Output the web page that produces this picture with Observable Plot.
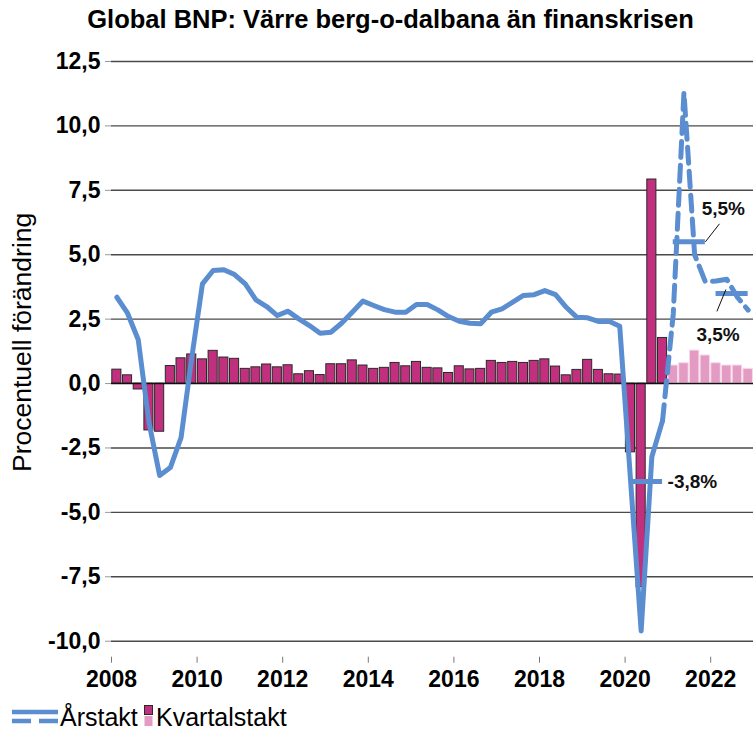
<!DOCTYPE html>
<html>
<head>
<meta charset="utf-8">
<script src="https://cdn.jsdelivr.net/npm/d3@7"></script>
<script src="https://cdn.jsdelivr.net/npm/@observablehq/plot@0.6"></script>
<style>
  body { margin: 0; background: #fff; font-family: "Liberation Sans", Arial, sans-serif; }
  #wrap { width: 753px; height: 736px; position: relative; overflow: hidden; }
  #title { height: 40px; line-height: 38px; font-size: 25.5px; font-weight: bold; text-align: center; padding-left: 28px; white-space: nowrap; }
  #legend { position: absolute; left: 0; top: 697px; height: 39px; width: 753px; }
  #legend .item { position: absolute; top: 0; font-size: 25px; line-height: 41px; }
</style>
</head>
<body>
<div id="wrap">
  <div id="title">Global BNP: Värre berg-o-dalbana än finanskrisen</div>
  <div id="chart"></div>
  <div id="legend"></div>
</div>
<script>
// ---- data ----
const years = [2008, 2009, 2010, 2011, 2012, 2013, 2014, 2015, 2016, 2017, 2018, 2019, 2020, 2021, 2022];
// Kvartalstakt (quarter-on-quarter, %), 2008Q1 .. 2020Q4 (utfall)
const kvartalUtfall = [
  0.54, 0.32, -0.23, -1.82,
  -1.87, 0.68, 0.98, 1.13,
  0.94, 1.27, 1.01, 0.96,
  0.57, 0.63, 0.74, 0.63,
  0.71, 0.36, 0.48, 0.33,
  0.75, 0.75, 0.90, 0.70,
  0.57, 0.61, 0.80, 0.67,
  0.84, 0.61, 0.59, 0.41,
  0.67, 0.55, 0.57, 0.88,
  0.80, 0.84, 0.80, 0.88,
  0.94, 0.66, 0.32, 0.53,
  0.92, 0.53, 0.36, 0.35,
  -2.67, -7.90, 7.92, 1.77
];
// Kvartalstakt prognos 2021Q1 .. 2022Q4
const kvartalPrognos = [0.70, 0.79, 1.28, 1.09, 0.79, 0.70, 0.70, 0.57];
// Årstakt (year-on-year, %), 2008Q1 .. 2020Q4
const arsUtfall = [
  3.35, 2.73, 1.70, -1.50,
  -3.57, -3.26, -2.10, 1.00,
  3.87, 4.39, 4.42, 4.23,
  3.87, 3.25, 2.99, 2.64,
  2.81, 2.51, 2.25, 1.95,
  1.99, 2.34, 2.77, 3.20,
  3.03, 2.87, 2.77, 2.77,
  3.07, 3.07, 2.86, 2.60,
  2.42, 2.34, 2.32, 2.77,
  2.90, 3.16, 3.42, 3.45,
  3.61, 3.45, 2.96, 2.57,
  2.55, 2.41, 2.42, 2.22,
  -3.70, -9.60, -2.84, -1.44
];
// Årstakt prognos 2021Q1 .. 2022Q4
const arsPrognos = [2.70, 11.30, 5.00, 3.95, 3.98, 4.05, 3.35, 2.85];
// Årsgenomsnitt (annual averages) shown as markers
const arsAr = [2020, 2021, 2022];
const arsSnitt = [-3.8, 5.5, 3.5];
const arsEtikett = ["-3,8%", "5,5%", "3,5%"];
const yTicks = [-10, -7.5, -5, -2.5, 0, 2.5, 5, 7.5, 10, 12.5];
const xTicks = [2008, 2010, 2012, 2014, 2016, 2018, 2020, 2022];
const yLabel = "Procentuell förändring";

// ---- build tables ----
const quarterStart = (i) => years[0] + i / 4;
const barsA = kvartalUtfall.map((v, i) => ({x1: quarterStart(i), x2: quarterStart(i + 1), v}));
const nA = kvartalUtfall.length;
const barsP = kvartalPrognos.map((v, i) => ({x1: quarterStart(nA + i), x2: quarterStart(nA + i + 1), v}));
const lineA = arsUtfall.map((v, i) => ({x: quarterStart(i) + 0.125, v}));
const lineP = [lineA[lineA.length - 1]].concat(arsPrognos.map((v, i) => ({x: quarterStart(arsUtfall.length + i) + 0.125, v})));
const ann = arsAr.map((y, i) => ({x1: y + 0.125, x2: y + 0.875, v: arsSnitt[i], label: arsEtikett[i]}));

const blue = "#5b8dd1";
const fmt = (d) => d.toFixed(1).replace(".", ",");
const font = "Liberation Sans, Arial, sans-serif";

const chart = Plot.plot({
  width: 753,
  height: 655,
  marginLeft: 111,
  marginRight: 0,
  marginTop: 21,
  marginBottom: 54.3,
  style: {fontFamily: font, background: "white", overflow: "visible"},
  x: {domain: [2008, 2023], axis: null},
  y: {domain: [-10, 12.5], axis: null},
  marks: [
    Plot.ruleY(yTicks.filter(d => d !== 0), {stroke: "#4a4a4a", strokeWidth: 1.4}),
    Plot.rectY(barsA, {x1: "x1", x2: "x2", y: "v", fill: "#c1307e", stroke: "#2a2a2a", strokeWidth: 1, insetLeft: 0.8, insetRight: 0.8}),
    Plot.rectY(barsP, {x1: "x1", x2: "x2", y: "v", fill: "#e39bc4", stroke: "#f6dbe9", strokeWidth: 1, insetLeft: 0.6, insetRight: 0.6}),
    Plot.ruleY([0], {stroke: "#111", strokeWidth: 1.6}),
    Plot.line(lineA, {x: "x", y: "v", stroke: blue, strokeWidth: 5, strokeLinejoin: "round"}),
    Plot.line(lineP, {x: "x", y: "v", stroke: blue, strokeWidth: 5, strokeDasharray: "16,8", strokeLinejoin: "round"}),
    Plot.ruleY(ann, {y: "v", x1: "x1", x2: "x2", stroke: blue, strokeWidth: 5}),
    // leader lines for 5,5% and 3,5%
    Plot.link(ann.slice(1, 2), {x1: "x2", y1: "v", x2: d => d.x2 + 0.33, y2: d => d.v + 0.7, stroke: "#111", strokeWidth: 1}),
    Plot.link(ann.slice(2, 3), {x1: d => d.x1 + 0.23, y1: d => d.v + 0.15, x2: d => d.x1 + 0.02, y2: d => d.v - 0.7, stroke: "#111", strokeWidth: 1}),
    Plot.text(ann.slice(0, 1), {x: "x2", y: "v", text: "label", textAnchor: "start", dx: 5, fontSize: 19, fontWeight: "bold", fill: "#111"}),
    Plot.text(ann.slice(1, 2), {x: "x2", y: "v", text: "label", textAnchor: "middle", dx: 18, dy: -33, fontSize: 19, fontWeight: "bold", fill: "#111"}),
    Plot.text(ann.slice(2, 3), {x: "x1", y: "v", text: "label", textAnchor: "middle", dx: 2, dy: 42, fontSize: 19, fontWeight: "bold", fill: "#111"}),
    Plot.axisY(yTicks, {label: null, tickSize: 6, tickPadding: 5, tickFormat: fmt, fontSize: 23, fontWeight: "bold", color: "black", stroke: "#999"}),
    Plot.axisX(xTicks, {label: null, anchor: "bottom", tickSize: 6, tickPadding: 7, dy: 16, tickFormat: d => String(d), fontSize: 23, fontWeight: "bold", color: "black", stroke: "#777"}),
    Plot.text([yLabel], {frameAnchor: "left", dx: -89, dy: -9, rotate: -90, textAnchor: "middle", fontSize: 26.5, fill: "black"})
  ]
});
document.getElementById("chart").appendChild(chart);

// ---- legend ----
const legend = document.getElementById("legend");
legend.innerHTML = `
  <svg style="position:absolute;left:12px;top:9px" width="46" height="22">
    <line x1="0" x2="46" y1="6" y2="6" stroke="${blue}" stroke-width="4.5"/>
    <line x1="0" x2="46" y1="15" y2="15" stroke="${blue}" stroke-width="4.5" stroke-dasharray="19,8"/>
  </svg>
  <div class="item" style="left:60px">Årstakt</div>
  <svg style="position:absolute;left:144px;top:8px" width="10" height="24">
    <rect x="0.5" y="0.5" width="8" height="9" fill="#c1307e" stroke="#2a2a2a"/>
    <rect x="0.5" y="11" width="8" height="10" fill="#e39bc4"/>
  </svg>
  <div class="item" style="left:156px">Kvartalstakt</div>
`;
</script>
</body>
</html>
